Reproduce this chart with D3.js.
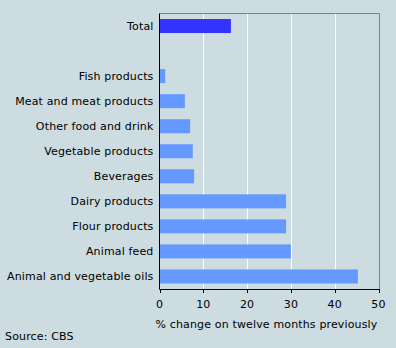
<!DOCTYPE html>
<html><head><meta charset="utf-8">
<script src="https://cdn.jsdelivr.net/npm/d3@7"></script>
<style>
html,body{margin:0;padding:0;background:#CDDCE1;}
svg{display:block;}
text{font-family:"DejaVu Sans",Verdana,sans-serif;font-size:11px;fill:#000;letter-spacing:0.15px;}
</style></head><body>
<script>
const categories = ["Total","","Fish products","Meat and meat products","Other food and drink","Vegetable products","Beverages","Dairy products","Flour products","Animal feed","Animal and vegetable oils"];
const values = [16.3,null,1.3,5.8,7.0,7.6,7.9,28.9,28.9,30.0,45.3];
const xTicks = [0,10,20,30,40,50];
const xTitle = "% change on twelve months previously";
const source = "Source: CBS";

const W=396,H=348;
const m={l:159.5,r:378.5,t:13.5,b:289};
const svg=d3.select("body").append("svg").attr("width",W).attr("height",H);
svg.append("rect").attr("width",W).attr("height",H).attr("fill","#CDDCE1");

const x=d3.scaleLinear().domain([0,50]).range([m.l,m.r]);
const y=d3.scaleBand().domain(categories.map((c,i)=>i)).range([m.t,m.b]).paddingInner(0.44).paddingOuter(0.22);

// grid
svg.append("g").selectAll("line").data(xTicks.slice(1,-1)).join("line")
 .attr("x1",d=>Math.round(x(d))+0.5).attr("x2",d=>Math.round(x(d))+0.5)
 .attr("y1",m.t).attr("y2",m.b).attr("stroke","#fff").attr("stroke-width",1);
// frame top/right
svg.append("path").attr("d",`M${m.l},${m.t}H${Math.round(m.r)+0.5}V${m.b}`).attr("fill","none").attr("stroke","#808080");

// bars
svg.append("g").selectAll("rect").data(values.map((v,i)=>({v,i})).filter(d=>d.v!=null)).join("rect")
 .attr("x",x(0)).attr("y",d=>y(d.i)).attr("width",d=>x(d.v)-x(0)).attr("height",y.bandwidth())
 .attr("fill",d=>d.i===0?"#3333FF":"#6699FF");

// y labels
svg.append("g").selectAll("text").data(categories).join("text")
 .attr("x",m.l-6).attr("y",(d,i)=>y(i)+y.bandwidth()/2).attr("dy","0.35em")
 .attr("text-anchor","end").text(d=>d);

// axes lines
svg.append("line").attr("x1",m.l).attr("x2",m.l).attr("y1",m.t).attr("y2",m.b+0.5).attr("stroke","#000");
svg.append("line").attr("x1",m.l).attr("x2",Math.round(m.r)+1).attr("y1",m.b+0.5).attr("y2",m.b+0.5).attr("stroke","#000");
svg.append("g").selectAll("line").data(xTicks).join("line")
 .attr("x1",d=>Math.round(x(d))+0.5).attr("x2",d=>Math.round(x(d))+0.5)
 .attr("y1",m.b).attr("y2",m.b+4).attr("stroke","#000");
svg.append("g").selectAll("text").data(xTicks).join("text")
 .attr("x",d=>x(d)).attr("y",304).attr("dy","0.35em").attr("text-anchor","middle").text(d=>d);

svg.append("text").attr("x",m.r-1).attr("y",324).attr("dy","0.35em").attr("text-anchor","end").text(xTitle);
svg.append("text").attr("x",5).attr("y",336).attr("dy","0.35em").text(source);
</script>
</body></html>
